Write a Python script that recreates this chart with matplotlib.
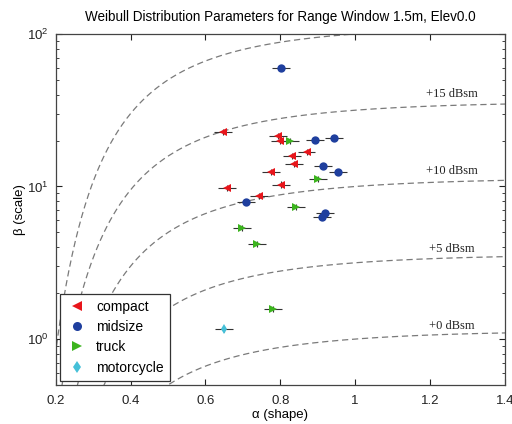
import math
import numpy as np
import matplotlib
matplotlib.use("Agg")
import matplotlib.pyplot as plt
from matplotlib.lines import Line2D

plt.rcParams['font.family'] = ['Liberation Sans', 'DejaVu Sans']
plt.rcParams['mathtext.fontset'] = 'custom'
plt.rcParams['mathtext.rm'] = 'Liberation Sans'

# ---- data ----
compact_alpha = [0.646, 0.794, 0.799, 0.870, 0.830, 0.836, 0.775, 0.802, 0.658, 0.744]
compact_beta = [22.9, 21.3, 19.9, 16.9, 15.8, 14.1, 12.4, 10.3, 9.75, 8.68]
midsize_alpha = [0.802, 0.893, 0.943, 0.915, 0.955, 0.707, 0.919, 0.912]
midsize_beta = [60.1, 20.1, 20.9, 13.6, 12.4, 7.96, 6.66, 6.33]
truck_alpha = [0.826, 0.901, 0.842, 0.697, 0.737, 0.781]
truck_beta = [19.9, 11.2, 7.3, 5.35, 4.21, 1.58]
moto_alpha = [0.650]
moto_beta = [1.17]
rcs_levels_db = [0, 5, 10, 15, 20]
rcs_labels = ['+0 dBsm', '+5 dBsm', '+10 dBsm', '+15 dBsm']
rcs_label_alpha = [1.259, 1.259, 1.259, 1.259]
rcs_label_beta = [1.22, 3.88, 12.6, 40.6]

fig = plt.figure(figsize=(5.12, 4.24), dpi=100)
ax = fig.add_axes([0.109, 0.092, 0.877, 0.828])

# constant-mean RCS contours: beta = m / Gamma(1 + 1/alpha)
a = np.linspace(0.15, 1.45, 600)
g = np.array([math.gamma(1 + 1 / v) for v in a])
for db in rcs_levels_db:
    m = 10 ** (db / 10)
    ax.plot(a, m / g, color='#7a7a7a', lw=0.9, dashes=(5, 3), zorder=1)

for lab, xa, yb in zip(rcs_labels, rcs_label_alpha, rcs_label_beta):
    ax.text(xa, yb, lab, family='Liberation Serif', fontsize=9,
            ha='center', va='center', color='#222222')

groups = [
    (compact_alpha, compact_beta, '<', '#e8151b', 'compact'),
    (midsize_alpha, midsize_beta, 'o', '#1f3f9e', 'midsize'),
    (truck_alpha, truck_beta, '>', '#3cb41e', 'truck'),
    (moto_alpha, moto_beta, 'd', '#45c0d8', 'motorcycle'),
]
handles = []
for xs, ys, mk, col, lab in groups:
    xs = np.array(xs); ys = np.array(ys)
    ax.errorbar(xs, ys, xerr=0.024, yerr=[ys * 0.045, ys * 0.047], fmt='none',
                ecolor='#333333', elinewidth=0.8, capsize=0, zorder=2)
    ms = 5 if mk == 'd' else 6
    ax.plot(xs, ys, linestyle='none', marker=mk, color=col, markersize=ms,
            markeredgewidth=0, zorder=3)
    handles.append(Line2D([], [], linestyle='none', marker=mk, color=col,
                          markersize=6.5, markeredgewidth=0, label=lab))

ax.set_yscale('log')
ax.set_xlim(0.2, 1.4)
ax.set_ylim(0.5, 100)
ax.set_xticks([0.2, 0.4, 0.6, 0.8, 1.0, 1.2, 1.4])
ax.set_xticklabels(['0.2', '0.4', '0.6', '0.8', '1', '1.2', '1.4'])
ax.tick_params(which='both', direction='in', top=True, right=True, labelsize=9.5,
               colors='#222222')
ax.tick_params(which='major', length=4)
ax.tick_params(which='minor', length=2.5)
ax.tick_params(axis='x', which='major', pad=7)
ax.tick_params(axis='y', which='major', pad=5)
for s in ax.spines.values():
    s.set_color('#444444')
    s.set_linewidth(0.9)

ax.set_title('Weibull Distribution Parameters for Range Window 1.5m, Elev0.0',
             fontsize=9.75, pad=9)
ax.set_xlabel('α (shape)', fontsize=9.5, labelpad=2)
ax.set_ylabel('β (scale)', fontsize=9.5)
ax.yaxis.set_label_coords(-0.066, 0.5)

leg = ax.legend(handles=handles, loc='lower left', fontsize=10, frameon=True,
                fancybox=False, edgecolor='#333333', borderpad=0.45,
                labelspacing=0.45, handlelength=1.6, handletextpad=0.55,
                borderaxespad=0.3, framealpha=1)
leg.get_frame().set_linewidth(0.9)

fig.savefig('out.png', dpi=100)
